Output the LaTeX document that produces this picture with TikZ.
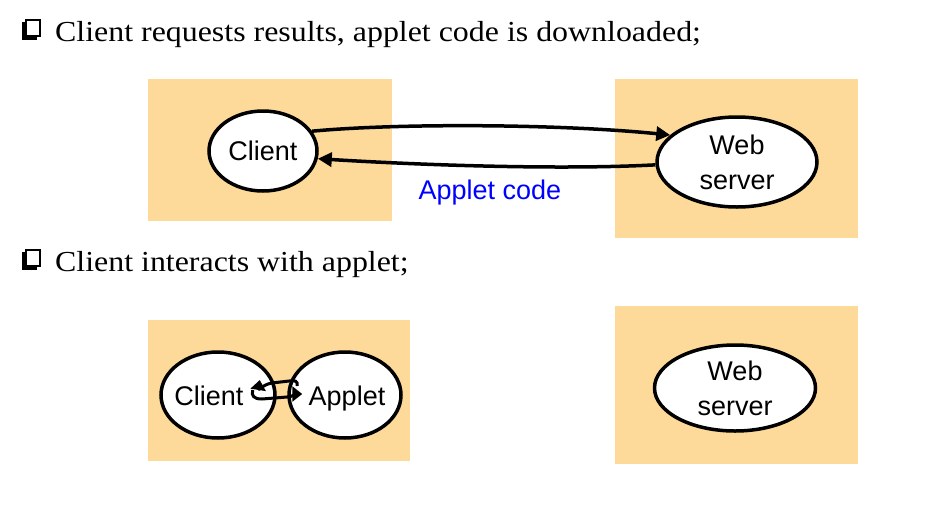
\documentclass[tikz,border=0pt]{standalone}
\usepackage{fontspec}
\setmainfont{Liberation Serif}
\newfontfamily\arialf{Liberation Sans}
\newfontfamily\titlef[FakeStretch=1.1]{Liberation Serif}
\usetikzlibrary{arrows.meta,shapes.geometric}
\definecolor{peach}{RGB}{254,218,154}
\begin{document}
\begin{tikzpicture}[x=1pt,y=-1pt,
  panel/.style={fill=peach,draw=none},
  bub/.style={ellipse,draw,line width=3.5pt,fill=white,inner sep=0pt,font=\arialf\fontsize{27}{35}\selectfont,align=center},
  lbl/.style={font=\arialf\fontsize{27}{35}\selectfont,inner sep=0pt},
  conn/.style={line width=3.5pt,-{Triangle[length=14pt,width=14pt]}},
  conn2/.style={line width=3pt,-{Triangle[length=10pt,width=15pt]}},
  title/.style={anchor=base west,font=\titlef\fontsize{29}{32}\selectfont,inner sep=0pt},
  bulletbox/.style={draw,line width=1.4pt,fill=white}]
\useasboundingbox (0,0) rectangle (929,509);
% titles
\fill (22,22) rectangle (37,40);
\draw[bulletbox] (26,20) rectangle (40,36);
\node[title] (t1) at (55,41) {Client requests results, applet code is downloaded;};
\fill (22,252) rectangle (37,270);
\draw[bulletbox] (26,250) rectangle (40,266);
\node[title] (t2) at (55,271) {Client interacts with applet;};
% panels
\fill[panel] (148,79) rectangle (392,221);
\fill[panel] (615,79) rectangle (858,238);
\fill[panel] (148,320) rectangle (410,461);
\fill[panel] (615,306) rectangle (858,464);
% top diagram
\node[bub,minimum width=108,minimum height=80] (c1) at (263,151) {Client};
\node[bub,minimum width=160,minimum height=90] (w1) at (737,162) {Web\\server};
\draw[conn] (c1.22) .. controls (400,123) and (560,124) .. (w1.158);
\draw[conn] (w1.182) .. controls (560,170) and (420,165) .. (c1.-8);
\node[lbl,text=blue] (lab) at (490,193) {Applet code};
% bottom diagram
\node[bub,minimum width=114,minimum height=86] (c2) at (218,395) {};
\node[lbl,anchor=base] (c2t) at (209,405) {Client};
\node[bub,minimum width=112,minimum height=86] (a2) at (345,395) {};
\node[lbl,anchor=base] (a2t) at (347,405) {Applet};
\node[bub,minimum width=161,minimum height=86] (w2) at (735,388) {Web\\server};
\draw[conn2] ([shift={(10pt,9pt)}]a2.west) .. controls (298,381) and (295,380) .. (289,381) -- (272,383) .. controls (264,384) and (258,391) .. ([shift={(-17pt,15pt)}]c2.east);
\draw[conn2] ([shift={(-24pt,5pt)}]c2.east) .. controls (251,396) and (254,399) .. (262,399) -- (287,397) .. controls (292,397) and (296,394) .. ([shift={(15pt,1pt)}]a2.west);
\end{tikzpicture}
\end{document}
